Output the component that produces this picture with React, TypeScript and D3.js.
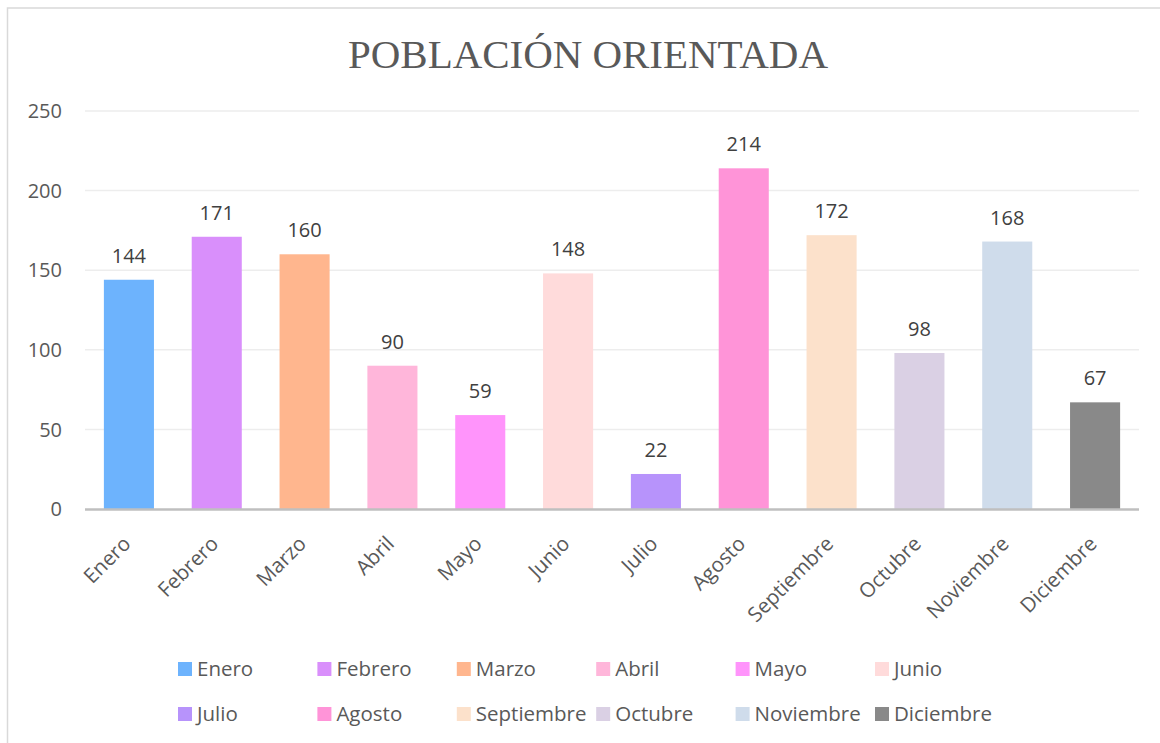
import React from 'react'
import * as d3 from 'd3'

const months = ['Enero', 'Febrero', 'Marzo', 'Abril', 'Mayo', 'Junio', 'Julio', 'Agosto', 'Septiembre', 'Octubre', 'Noviembre', 'Diciembre']
const values = [144, 171, 160, 90, 59, 148, 22, 214, 172, 98, 168, 67]
const colors = ['#6DB3FD', '#D98FFB', '#FFB68E', '#FFB6DA', '#FF94FB', '#FFDBDB', '#B793FB', '#FF94D8', '#FCE1CB', '#DAD0E4', '#CFDCEB', '#898989']
const yTicks = [0, 50, 100, 150, 200, 250]

const W = 1160
const H = 743
const font = '"Open Sans", sans-serif'

export default function App() {
  const margin = { left: 85, right: 21, top: 111, bottom: 234 }
  const x = d3.scaleBand<string>()
    .domain(months)
    .range([margin.left, W - margin.right])
    .paddingInner(0.43)
    .paddingOuter(0.215)
  const y = d3.scaleLinear()
    .domain([0, 250])
    .range([H - margin.bottom, margin.top])

  // legend layout: 6 columns, 2 rows
  const legX = d3.scaleLinear().domain([0, 1]).range([178, 317.4])
  const legY = [662, 707]

  return (
    <svg width={W} height={H} style={{ position: 'absolute', left: 0, top: 0, background: '#fff' }}>
      <rect x={7.5} y={8} width={W + 10} height={H + 10} fill="#fff" stroke="#D9D9D9" strokeWidth={1.5} />

      <text x={348} y={68} textLength={480} lengthAdjust="spacing" fontFamily='"Liberation Serif", serif'
        fontSize={41} fill="#595959">POBLACIÓN ORIENTADA</text>

      {yTicks.map(t => (
        <g key={t}>
          {t > 0 && <line x1={margin.left} x2={W - margin.right} y1={y(t)} y2={y(t)} stroke="#EDEDED" strokeWidth={1.5} />}
          <text x={62} y={y(t)} dy="0.36em" textAnchor="end" fontFamily={font} fontSize={20} fill="#595959">{t}</text>
        </g>
      ))}

      {months.map((m, i) => (
        <rect key={m} x={x(m)} y={y(values[i])} width={x.bandwidth()} height={y(0) - y(values[i])} fill={colors[i]} />
      ))}

      <line x1={margin.left} x2={W - margin.right} y1={y(0) + 0.5} y2={y(0) + 0.5} stroke="#BFBFBF" strokeWidth={2.5} />

      {months.map((m, i) => (
        <text key={m} x={x(m)! + x.bandwidth() / 2} y={y(values[i]) - 17} textAnchor="middle"
          fontFamily={font} fontSize={20} fill="#404040">{values[i]}</text>
      ))}

      {months.map(m => {
        const cx = x(m)! + x.bandwidth() / 2
        return (
          <text key={m} transform={`translate(${cx + 3},${y(0) + 36}) rotate(-45)`} textAnchor="end"
            fontFamily={font} fontSize={20.5} fill="#595959">{m}</text>
        )
      })}

      {months.map((m, i) => {
        const col = i % 6
        const row = Math.floor(i / 6)
        return (
          <g key={m} transform={`translate(${legX(col)},${legY[row]})`}>
            <rect width={14} height={14} fill={colors[i]} />
            <text x={19} y={14} fontFamily={font} fontSize={20.5} fill="#595959">{m}</text>
          </g>
        )
      })}
    </svg>
  )
}
